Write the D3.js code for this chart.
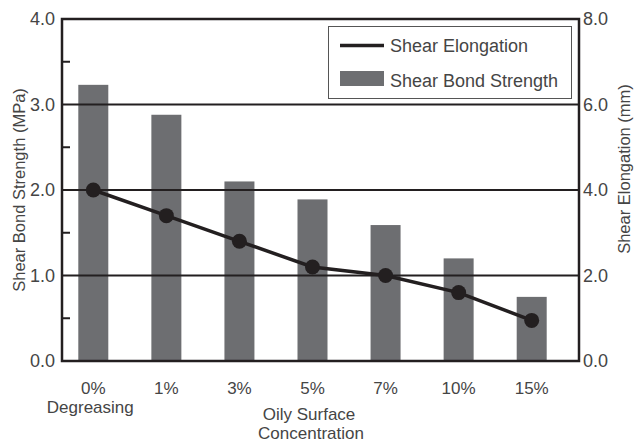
<!DOCTYPE html>
<html>
<head>
<meta charset="utf-8">
<script src="https://cdn.jsdelivr.net/npm/d3@7"></script>
<style>
  html, body { margin: 0; padding: 0; background: #fff; }
  svg { display: block; font-family: "Liberation Sans", Arial, Helvetica, sans-serif; }
  .tick text, .lbl { fill: #454545; }
</style>
</head>
<body>
<svg id="chart" width="634" height="441"></svg>
<script>
// Oily surface concentration categories
const categories = ["0%", "1%", "3%", "5%", "7%", "10%", "15%"];
const subLabels = ["Degreasing", "", "", "", "", "", ""];
// Shear bond strength (MPa), left axis
const bondStrength = [3.23, 2.88, 2.1, 1.89, 1.59, 1.2, 0.75];
// Shear elongation (mm), right axis
const elongation = [4.0, 3.4, 2.8, 2.2, 2.0, 1.6, 0.95];
// Axis ticks
const leftTicks = [0, 1, 2, 3, 4];
const leftMinorTicks = [0.5, 1.5, 2.5, 3.5];
const rightTicks = [0, 2, 4, 6, 8];
const gridTicks = [1, 2, 3];

const svg = d3.select("#chart");
const plot = { left: 62, right: 579, top: 19, bottom: 361 };
const ink = "#231f20";
const barColor = "#6d6e71";

const x = d3.scalePoint().domain(categories).range([93.3, 531.7]);
const yL = d3.scaleLinear().domain([0, 4]).range([plot.bottom, plot.top]);
const yR = d3.scaleLinear().domain([0, 8]).range([plot.bottom, plot.top]);
const barW = 30;

// Bars
svg.append("g").selectAll("rect")
  .data(categories)
  .join("rect")
  .attr("x", (d) => x(d) - barW / 2)
  .attr("width", barW)
  .attr("y", (d, i) => yL(bondStrength[i]))
  .attr("height", (d, i) => yL(0) - yL(bondStrength[i]))
  .attr("fill", barColor);

// Gridlines
svg.append("g").selectAll("line")
  .data(gridTicks)
  .join("line")
  .attr("x1", plot.left).attr("x2", plot.right)
  .attr("y1", (d) => yL(d)).attr("y2", (d) => yL(d))
  .attr("stroke", ink).attr("stroke-width", 2);

// Minor inward ticks on the left axis
svg.append("g").selectAll("line")
  .data(leftMinorTicks)
  .join("line")
  .attr("x1", plot.left).attr("x2", plot.left + 8)
  .attr("y1", (d) => yL(d)).attr("y2", (d) => yL(d))
  .attr("stroke", ink).attr("stroke-width", 2);

// Frame
svg.append("rect")
  .attr("x", plot.left).attr("y", plot.top)
  .attr("width", plot.right - plot.left).attr("height", plot.bottom - plot.top)
  .attr("fill", "none").attr("stroke", ink).attr("stroke-width", 2.5);

// Elongation line and markers
const line = d3.line()
  .x((d, i) => x(categories[i]))
  .y((d) => yR(d));
svg.append("path")
  .datum(elongation)
  .attr("d", line)
  .attr("fill", "none").attr("stroke", ink).attr("stroke-width", 3.5);
svg.append("g").selectAll("circle")
  .data(elongation)
  .join("circle")
  .attr("cx", (d, i) => x(categories[i]))
  .attr("cy", (d) => yR(d))
  .attr("r", 7.5)
  .attr("fill", ink);

// Left axis labels
const fmt = d3.format(".1f");
const gL = svg.append("g")
  .attr("transform", `translate(${plot.left},0)`)
  .call(d3.axisLeft(yL).tickValues(leftTicks).tickFormat(fmt).tickSize(0).tickPadding(7));
gL.select(".domain").remove();
gL.selectAll("text").attr("font-size", 18).attr("font-family", null);

// Right axis labels
const gR = svg.append("g")
  .attr("transform", `translate(${plot.right},0)`)
  .call(d3.axisRight(yR).tickValues(rightTicks).tickFormat(fmt).tickSize(0).tickPadding(4));
gR.select(".domain").remove();
gR.selectAll("text").attr("font-size", 18).attr("font-family", null);

// Category labels
const xl = svg.append("g").attr("font-size", 17).attr("text-anchor", "middle");
xl.selectAll("text.cat")
  .data(categories)
  .join("text")
  .attr("class", "cat lbl")
  .attr("x", (d) => x(d))
  .attr("y", 393.5)
  .text((d) => d);
xl.selectAll("text.sub")
  .data(subLabels.filter((s) => s))
  .join("text")
  .attr("class", "sub lbl")
  .attr("x", (d) => x(categories[subLabels.indexOf(d)]) - 3)
  .attr("y", 412.5)
  .text((d) => d);

// Axis titles
svg.append("text").attr("class", "lbl")
  .attr("font-size", 17).attr("text-anchor", "middle")
  .attr("transform", "translate(309,419.5)")
  .text("Oily Surface");
svg.append("text").attr("class", "lbl")
  .attr("font-size", 17).attr("text-anchor", "middle")
  .attr("transform", "translate(311,438.5)")
  .text("Concentration");
svg.append("text").attr("class", "lbl")
  .attr("font-size", 16.5).attr("text-anchor", "middle")
  .attr("transform", "translate(25,190) rotate(-90)")
  .text("Shear Bond Strength (MPa)");
svg.append("text").attr("class", "lbl")
  .attr("font-size", 16.5).attr("text-anchor", "middle")
  .attr("transform", "translate(630,169) rotate(-90)")
  .text("Shear Elongation (mm)");

// Legend
const lg = svg.append("g");
lg.append("rect")
  .attr("x", 328.5).attr("y", 26.5).attr("width", 243).attr("height", 72)
  .attr("fill", "#fff").attr("stroke", "#555").attr("stroke-width", 1);
lg.append("line")
  .attr("x1", 340).attr("x2", 384).attr("y1", 45.5).attr("y2", 45.5)
  .attr("stroke", ink).attr("stroke-width", 3.5);
lg.append("rect")
  .attr("x", 340).attr("y", 71).attr("width", 44).attr("height", 15)
  .attr("fill", barColor);
lg.append("text").attr("class", "lbl").attr("font-size", 18)
  .attr("x", 390).attr("y", 52).text("Shear Elongation");
lg.append("text").attr("class", "lbl").attr("font-size", 18)
  .attr("x", 390).attr("y", 87).text("Shear Bond Strength");
</script>
</body>
</html>
